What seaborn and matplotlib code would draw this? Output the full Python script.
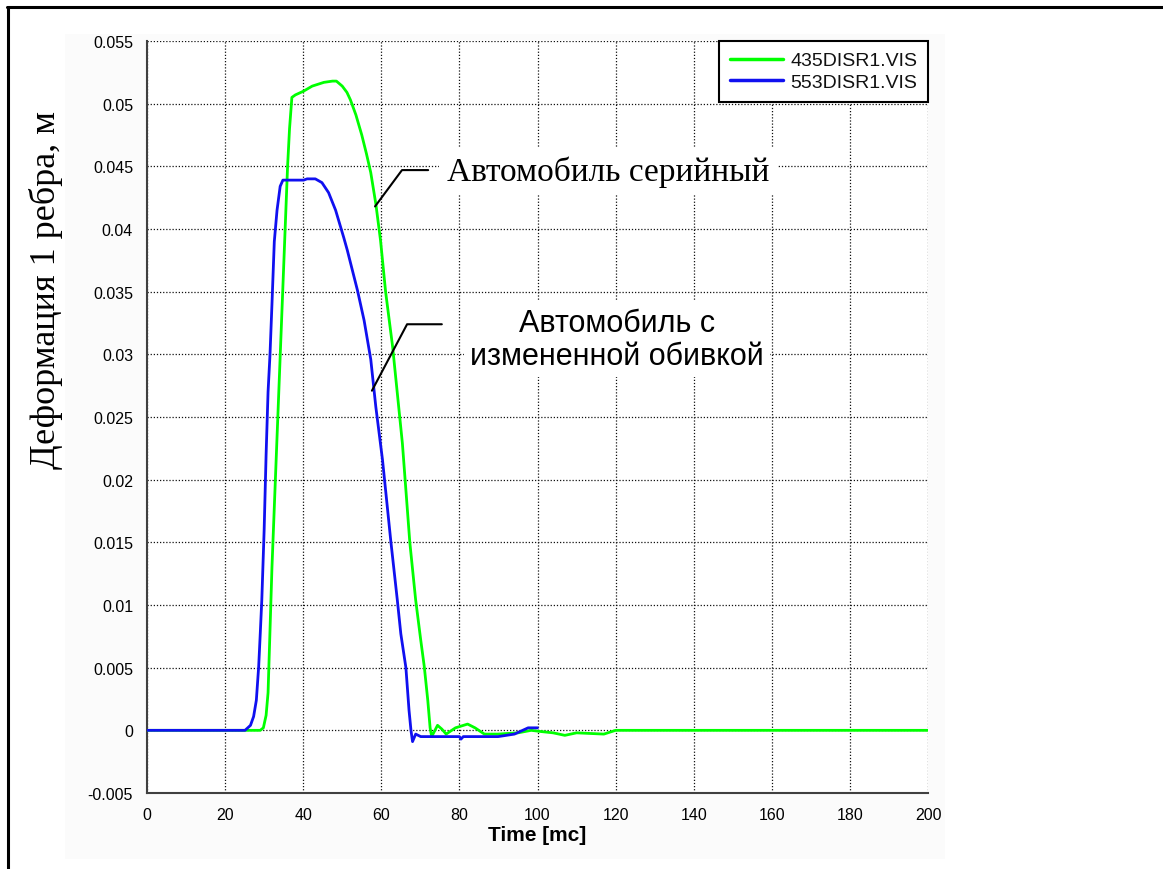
import numpy as np
import pandas as pd
import matplotlib
matplotlib.use("Agg")
import matplotlib.pyplot as plt
from matplotlib.lines import Line2D
from matplotlib.patches import Rectangle
import seaborn as sns

# ---------------- data ----------------
green_label = "435DISR1.VIS"
green_x = [0, 29, 29.8, 30.5, 31, 31.5, 32, 33, 34, 35, 35.5, 36, 36.5, 37.1, 38, 40.1,
           42.3, 45.3, 47.5, 48.5, 50.0, 51.2, 52.1, 53.5, 55.0, 56.2, 57.3, 58.6, 59.8,
           61.1, 62.9, 64.1, 65.4, 66.1, 67.3, 68.8, 70.1, 71.0, 71.9, 72.5, 72.9, 74.4,
           75.5, 76.6, 79, 82.1, 84, 86.4, 89.8, 95, 98.4, 101, 104, 107, 110, 117, 120, 200]
green_y = [0, 0, 0.0002, 0.0012, 0.003, 0.008, 0.013, 0.021, 0.029, 0.037, 0.041, 0.045,
           0.048, 0.0505, 0.0507, 0.0510, 0.0514, 0.0517, 0.0518, 0.0518, 0.0514, 0.0509,
           0.0503, 0.0491, 0.0475, 0.0460, 0.0445, 0.0420, 0.0391, 0.0350, 0.0306, 0.0269,
           0.0229, 0.0200, 0.0150, 0.0104, 0.0072, 0.0051, 0.0024, 0.0002, -0.0005, 0.0004,
           0.0001, -0.0003, 0.0002, 0.0005, 0.0002, -0.0003, -0.0003, -0.0002, 0.0, -0.0001,
           -0.0002, -0.0004, -0.0002, -0.0003, 0.0, 0.0]

blue_label = "553DISR1.VIS"
blue_x = [0, 25.1, 26.5, 27.3, 28.0, 28.6, 29.0, 29.4, 30.0, 30.5, 31.0, 31.5, 32.0, 32.6,
          33.3, 34.1, 34.8, 40.1, 41.0, 43.1, 44.8, 46.5, 48.3, 50.4, 51.3, 53.9, 55.6,
          57.3, 58.6, 60.3, 62.4, 64.1, 65.0, 66.3, 67.1, 67.6, 68.0, 68.8, 70.1, 75.3,
          80.0, 80.4, 81, 89.9, 94.1, 97.6, 100.0]
blue_y = [0, 0, 0.0004, 0.0011, 0.0024, 0.0051, 0.0077, 0.0104, 0.016, 0.022, 0.027, 0.030,
          0.034, 0.039, 0.0415, 0.0434, 0.0439, 0.0439, 0.0440, 0.0440, 0.0437, 0.0429,
          0.0415, 0.0393, 0.0383, 0.0351, 0.0327, 0.0296, 0.0258, 0.0216, 0.0152, 0.0104,
          0.0077, 0.0050, 0.0016, 0.0, -0.0009, -0.0003, -0.0005, -0.0005, -0.0005,
          -0.0007, -0.0005, -0.0005, -0.0003, 0.0002, 0.0002]

x_ticks = [0, 20, 40, 60, 80, 100, 120, 140, 160, 180, 200]
y_ticks = [-0.005, 0, 0.005, 0.01, 0.015, 0.02, 0.025, 0.03, 0.035, 0.04, 0.045, 0.05, 0.055]
y_tick_labels = ["-0.005", "0", "0.005", "0.01", "0.015", "0.02", "0.025", "0.03",
                 "0.035", "0.04", "0.045", "0.05", "0.055"]

x_label = "Time [mc]"
y_label = "Деформация 1 ребра, м"
note1 = "Автомобиль серийный"
note2 = "Автомобиль с\nизмененной обивкой"
# leader lines (annotation anchors, data coords)
leader1_x = [58.4, 65.3, 72.0]
leader1_y = [0.0418, 0.0447, 0.0447]
leader2_x = [57.6, 66.6, 75.5]
leader2_y = [0.0271, 0.0324, 0.0324]

# ---------------- plot ----------------
sns.set_style("white")
plt.rcParams["font.family"] = ["Liberation Sans", "DejaVu Sans"]
plt.rcParams["text.color"] = "black"
plt.rcParams["axes.labelcolor"] = "black"
plt.rcParams["xtick.color"] = "black"
plt.rcParams["ytick.color"] = "black"

fig = plt.figure(figsize=(11.63, 8.70), dpi=100)
fig.patches.append(Rectangle((65 / 1163, 1 - 860 / 870), (945 - 65) / 1163, (860 - 35) / 870,
                             transform=fig.transFigure, facecolor="#fbfbfb",
                             edgecolor="none", zorder=-5))
ax = fig.add_axes([147 / 1163, 1 - 794 / 870, (928 - 147) / 1163, (794 - 42) / 870])
ax.set_facecolor("white")

df = pd.concat([
    pd.DataFrame({"t": green_x, "d": green_y, "s": green_label}),
    pd.DataFrame({"t": blue_x, "d": blue_y, "s": blue_label}),
])
sns.lineplot(data=df, x="t", y="d", hue="s", palette={green_label: "#00ff00", blue_label: "#1010f0"},
             estimator=None, sort=False, linewidth=2.0, ax=ax, zorder=3)

ax.set_xlim(0, 200)
ax.set_ylim(-0.005, 0.055)
ax.set_xticks(x_ticks)
ax.set_xticklabels([str(v) for v in x_ticks])
ax.set_yticks(y_ticks)
ax.set_yticklabels(y_tick_labels)
ax.tick_params(axis="both", direction="out", length=4, width=1.3, color="#404040",
               labelsize=11.5, labelcolor="black")
ax.tick_params(axis="x", pad=6)
ax.tick_params(axis="y", pad=6)

ax.grid(True, color="#111111", linestyle=(0, (1, 1.5)), linewidth=0.9)
for side in ["top", "right"]:
    ax.spines[side].set_visible(False)
for side in ["left", "bottom"]:
    ax.spines[side].set_color("#404040")
    ax.spines[side].set_linewidth(1.5)

ax.set_xlabel(x_label, fontsize=15, fontweight="bold", labelpad=2, color="black")
ax.set_ylabel("")
fig.text(46 / 1163, 1 - 290 / 870, y_label, rotation=90, ha="center", va="center",
         family=["Liberation Serif", "DejaVu Serif"], fontsize=26, color="black")

leg = ax.legend(loc="upper right", bbox_to_anchor=(1.0, 1.0), borderaxespad=0,
                fontsize=14, handlelength=2.75, handletextpad=0.35, frameon=True,
                fancybox=False, framealpha=1, borderpad=0.55, labelspacing=0.22)
leg.get_frame().set_edgecolor("black")
leg.get_frame().set_linewidth(1.5)
for h in leg.get_lines():
    h.set_linewidth(2.5)
for t in leg.get_texts():
    t.set_color("#111111")

ax.plot(leader1_x, leader1_y, color="black", linewidth=1.5, zorder=4)
ax.plot(leader2_x, leader2_y, color="black", linewidth=1.5, zorder=4)
ax.text(76.8, 0.0446, note1, ha="left", va="center", fontsize=24, color="black",
        family=["Liberation Serif", "DejaVu Serif"], zorder=5,
        bbox=dict(boxstyle="square,pad=0.25", facecolor="white", edgecolor="none"))
ax.text(120.4, 0.0312, note2, ha="center", va="center", fontsize=22, linespacing=1.15,
        color="black", family=["Liberation Sans", "DejaVu Sans"], zorder=5,
        bbox=dict(boxstyle="square,pad=0.2", facecolor="white", edgecolor="none"))

# outer frame
fig.add_artist(Line2D([7 / 1163, 1.0], [1 - 8 / 870, 1 - 8 / 870], transform=fig.transFigure,
                      color="black", linewidth=2.2))
fig.add_artist(Line2D([8 / 1163, 8 / 1163], [0.0, 1 - 8 / 870], transform=fig.transFigure,
                      color="black", linewidth=2.2))

fig.savefig("out.png", dpi=100)
